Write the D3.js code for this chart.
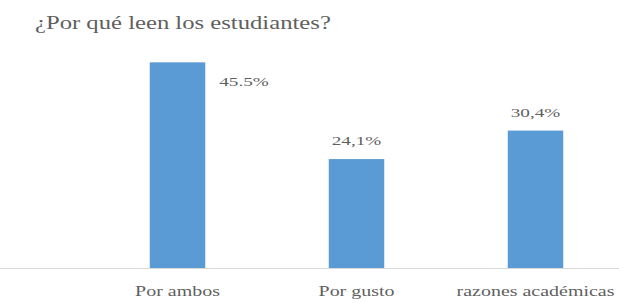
<!DOCTYPE html>
<html lang="es">
<head>
    <meta charset="UTF-8">
    <title>¿Por qué leen los estudiantes?</title>
    <script src="https://d3js.org/d3.v7.min.js"></script>
    <style>
        body { margin: 0; background: #fff; }
        svg text { font-family: 'Liberation Serif', 'Times New Roman', 'DejaVu Serif', serif; fill: #5f5f5f; }
    </style>
</head>
<body>
    <svg width="619" height="303"></svg>
    <script>
        const categories = ["Por ambos", "Por gusto", "razones académicas"];
        const values = [45.5, 24.1, 30.4];
        const valueLabels = ["45.5%", "24,1%", "30,4%"];

        const svg = d3.select("svg");
        const baseY = 268;

        const x = d3.scaleBand()
            .domain(categories)
            .range([88, 625])
            .paddingInner(0.69)
            .paddingOuter(0.345);

        const y = d3.scaleLinear()
            .domain([0, 50])
            .range([baseY, baseY - 226]);

        // the picture is wider than tall, so text looks stretched sideways
        function widen(stretch) {
            return sel => sel.each(function () {
                const w = this.getComputedTextLength();
                d3.select(this).attr("textLength", w * stretch).attr("lengthAdjust", "spacingAndGlyphs");
            });
        }

        svg.append("text")
            .attr("x", 35)
            .attr("y", 29)
            .attr("font-size", 18)
            .text("¿Por qué leen los estudiantes?")
            .call(widen(1.37));

        // bars
        svg.append("g").selectAll("rect")
            .data(values)
            .join("rect")
            .attr("x", (d, i) => x(categories[i]))
            .attr("y", d => y(d))
            .attr("width", x.bandwidth())
            .attr("height", d => y(0) - y(d))
            .attr("fill", "#5b9bd5");

        // baseline
        svg.append("line")
            .attr("x1", 0).attr("x2", 619)
            .attr("y1", baseY + 0.5).attr("y2", baseY + 0.5)
            .attr("stroke", "#d9d9d9");

        // value labels (first one sits right of the bar top)
        svg.append("g").selectAll("text")
            .data(values)
            .join("text")
            .attr("font-size", 12)
            .attr("text-anchor", (d, i) => i === 0 ? "start" : "middle")
            .attr("x", (d, i) => i === 0 ? x(categories[i]) + x.bandwidth() + 14 : x(categories[i]) + x.bandwidth() / 2)
            .attr("y", (d, i) => i === 0 ? y(d) + 24 : y(d) - 14)
            .text((d, i) => valueLabels[i])
            .call(widen(1.6));

        // category labels
        svg.append("g")
            .attr("transform", `translate(0,${baseY})`)
            .call(d3.axisBottom(x).tickSize(0).tickPadding(17))
            .call(g => g.select(".domain").remove())
            .call(g => g.attr("font-family", null))
            .selectAll("text")
            .attr("font-size", 15)
            .call(widen(1.33));
    </script>
</body>
</html>
